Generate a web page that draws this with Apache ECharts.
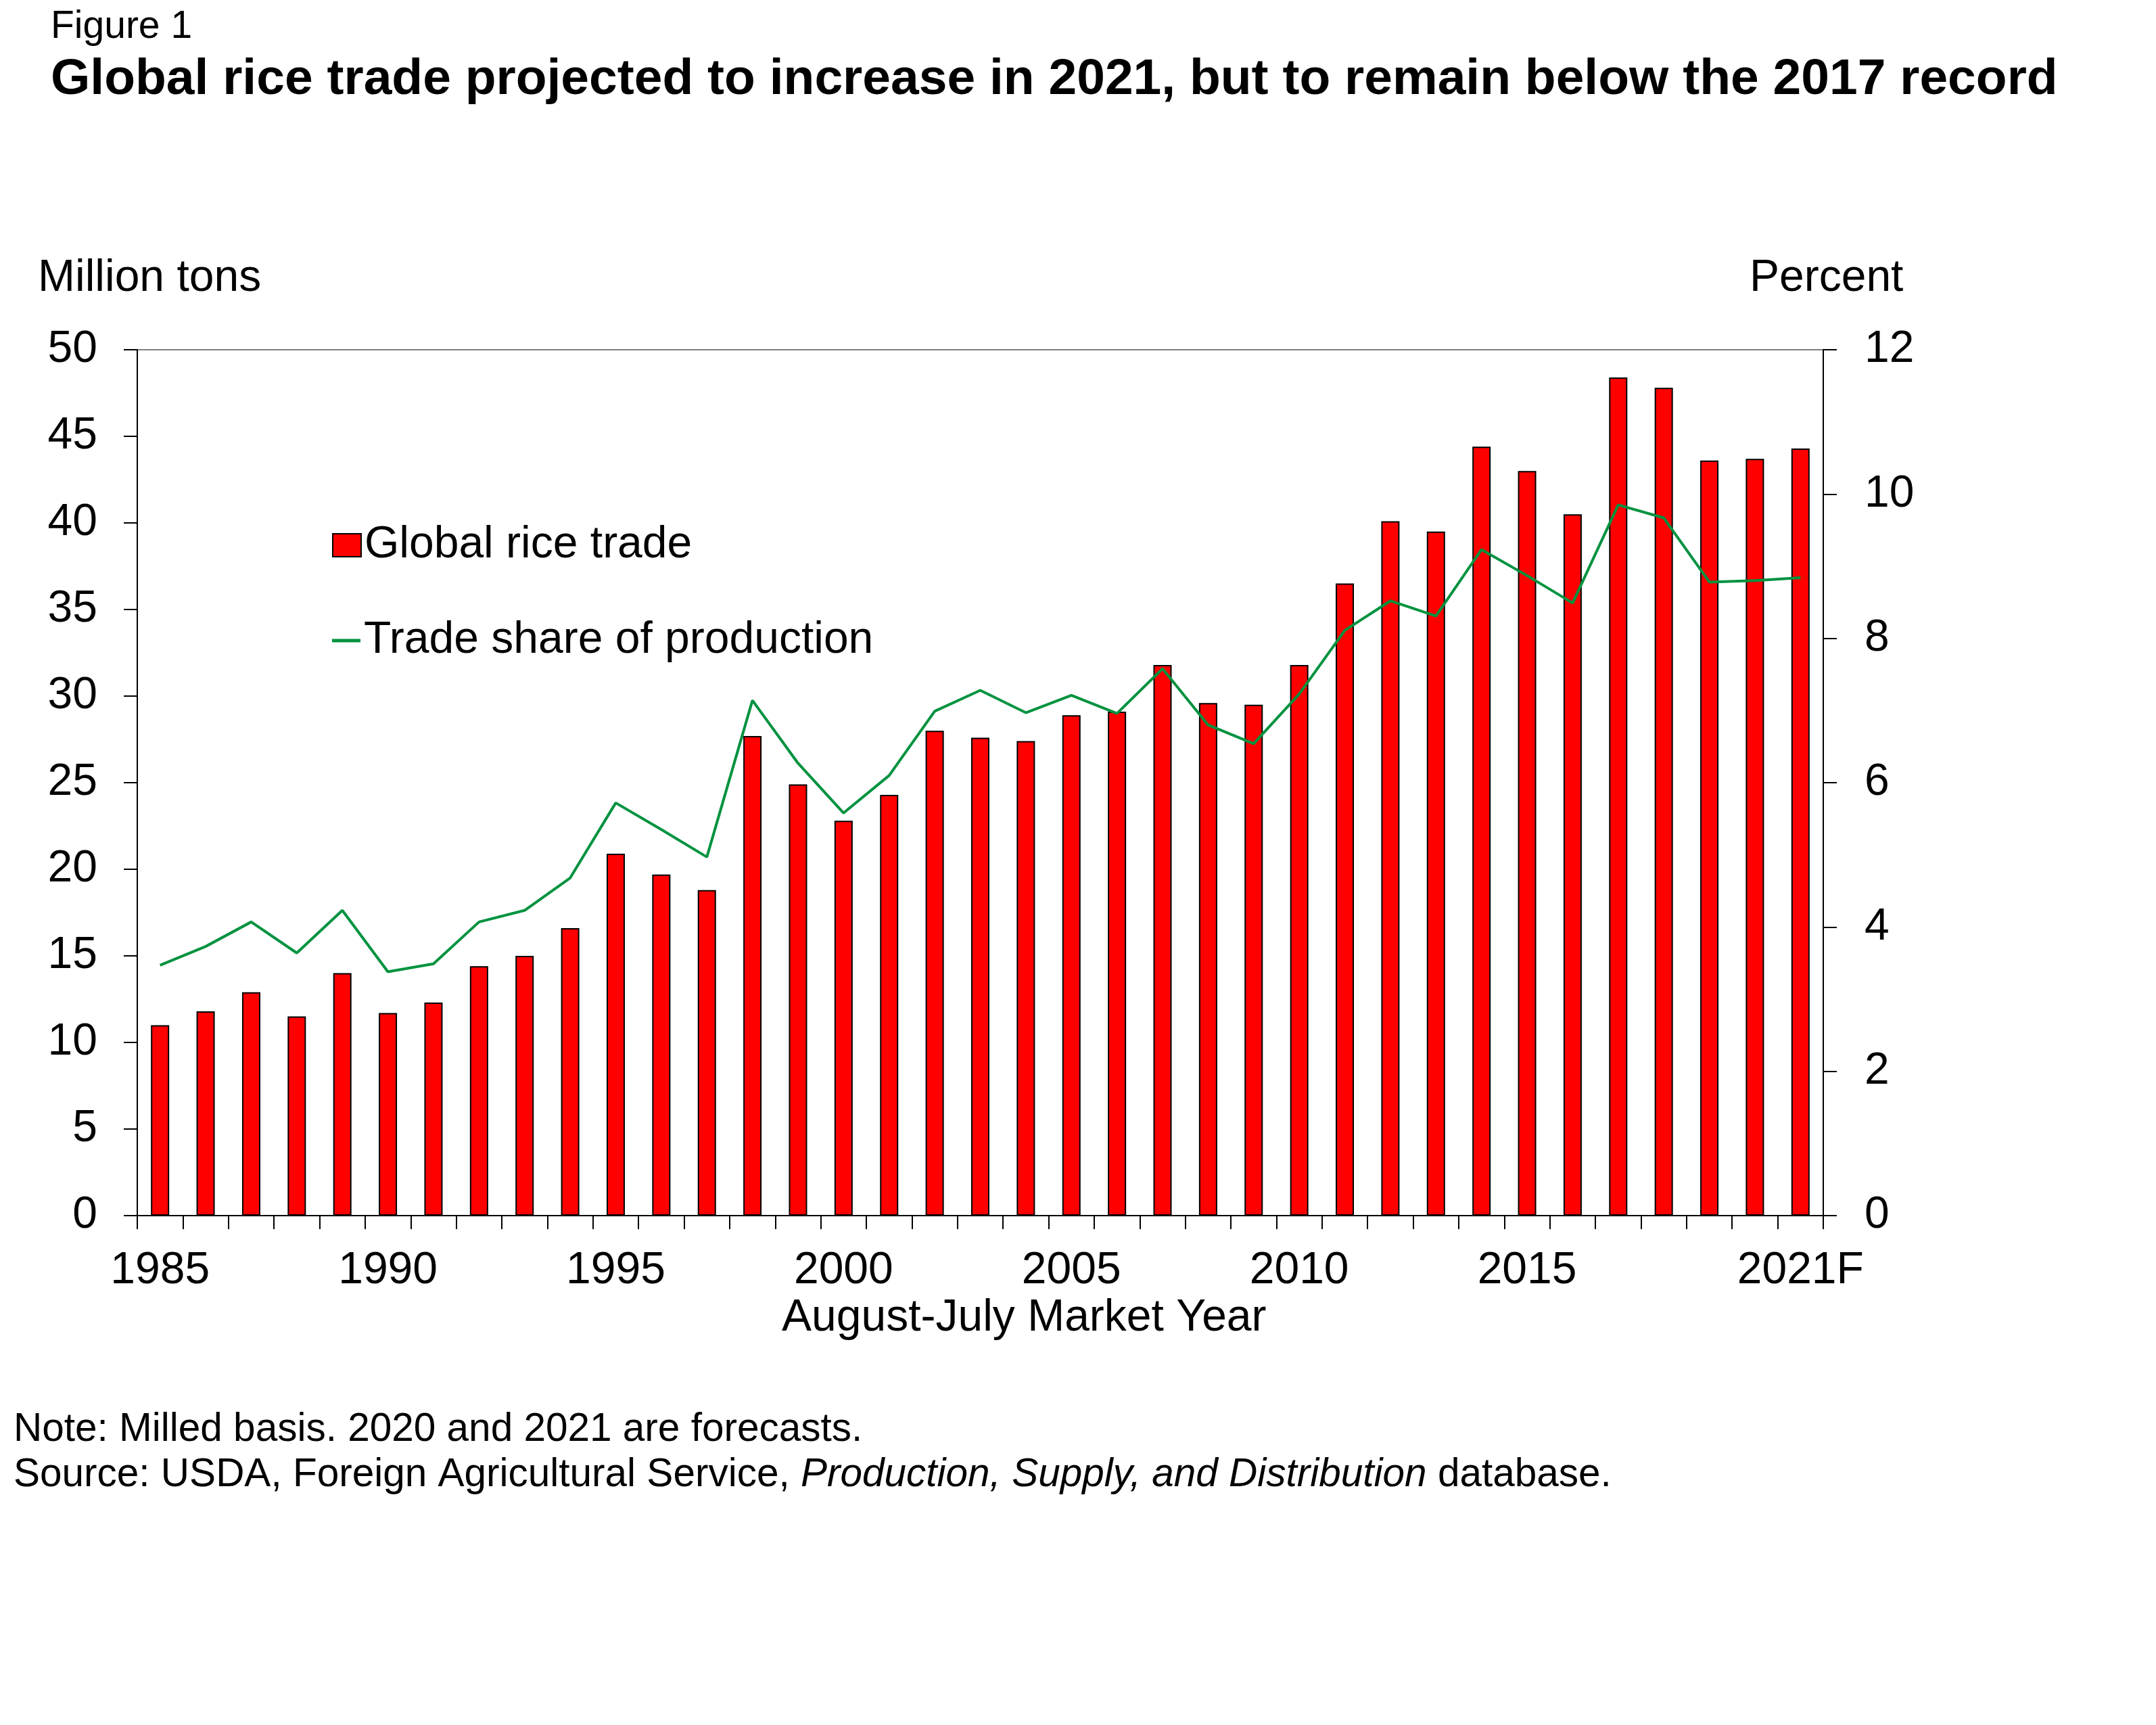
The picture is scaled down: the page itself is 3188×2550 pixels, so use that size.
<!DOCTYPE html>
<html>
<head>
    <meta charset="utf-8">
    <title>Global rice trade</title>
    <script src="https://cdn.jsdelivr.net/npm/echarts@6/dist/echarts.min.js"></script>
    <style>
        body { margin: 0; background: #fff; }
    </style>
</head>
<body>
    <div id="main" style="width: 3188px; height: 2550px;"></div>
    <script type="text/javascript">

        // market years (tick labels shown every 5 years + last)
        var years = ['1985','1986','1987','1988','1989','1990','1991','1992','1993','1994',
            '1995','1996','1997','1998','1999','2000','2001','2002','2003','2004',
            '2005','2006','2007','2008','2009','2010','2011','2012','2013','2014',
            '2015','2016','2017','2018','2019','2020','2021F'];

        // global rice trade, million tons
        var riceTrade = [11.0, 11.8, 12.9, 11.5, 14.0, 11.7, 12.3, 14.4, 15.0, 16.6,
            20.9, 19.7, 18.8, 27.7, 24.9, 22.8, 24.3, 28.0, 27.6, 27.4,
            28.9, 29.1, 31.8, 29.6, 29.5, 31.8, 36.5, 40.1, 39.5, 44.4,
            43.0, 40.5, 48.4, 47.8, 43.6, 43.7, 44.3];

        // trade share of production, percent
        var tradeShare = [3.47, 3.73, 4.07, 3.64, 4.23, 3.38, 3.49, 4.07, 4.23, 4.68,
            5.72, 5.35, 4.97, 7.14, 6.27, 5.58, 6.10, 6.99, 7.28, 6.97,
            7.21, 6.96, 7.58, 6.80, 6.54, 7.23, 8.11, 8.52, 8.31, 9.23,
            8.87, 8.49, 9.85, 9.67, 8.78, 8.80, 8.84];

        var font = 'Liberation Sans, Arial, sans-serif';

        var myChart = echarts.init(document.getElementById('main'));

        var option = {
            backgroundColor: '#fff',
            animation: false,
            textStyle: { fontFamily: font },
            title: [
                {
                    text: 'Figure 1',
                    left: 75, top: 12, padding: 0,
                    textStyle: { fontFamily: font, fontSize: 57, fontWeight: 'normal', color: '#000' }
                },
                {
                    text: 'Global rice trade projected to increase in 2021, but to remain below the 2017 record',
                    left: 75, top: 81, padding: 0,
                    textStyle: { fontFamily: font, fontSize: 75, fontWeight: 'bold', color: '#000' }
                },
                {
                    text: 'Million tons',
                    left: 56, top: 379, padding: 0,
                    textStyle: { fontFamily: font, fontSize: 66, fontWeight: 'normal', color: '#000' }
                },
                {
                    text: 'Percent',
                    left: 2587, top: 379, padding: 0,
                    textStyle: { fontFamily: font, fontSize: 66, fontWeight: 'normal', color: '#000' }
                },
                {
                    text: 'August-July Market Year',
                    left: 1156, top: 1916, padding: 0,
                    textStyle: { fontFamily: font, fontSize: 66, fontWeight: 'normal', color: '#000' }
                },
                {
                    text: 'Note: Milled basis. 2020 and 2021 are forecasts.\n' +
                        'Source: USDA, Foreign Agricultural Service, {i|Production, Supply, and Distribution} database.',
                    left: 20, top: 2080, padding: 0,
                    textStyle: {
                        fontFamily: font, fontSize: 58.5, fontWeight: 'normal', color: '#000',
                        lineHeight: 67,
                        rich: {
                            i: { fontFamily: font, fontSize: 58.5, fontStyle: 'italic', color: '#000', lineHeight: 67 }
                        }
                    }
                }
            ],
            legend: [
                {
                    data: ['Global rice trade'],
                    orient: 'vertical',
                    left: 491, top: 773, padding: 0,
                    icon: 'rect',
                    itemWidth: 42, itemHeight: 34,
                    selectedMode: false,
                    textStyle: { fontFamily: font, fontSize: 66, color: '#000', lineHeight: 66 }
                },
                {
                    data: ['Trade share of production'],
                    orient: 'vertical',
                    left: 491, top: 914, padding: 0,
                    icon: 'rect',
                    itemWidth: 42, itemHeight: 5,
                    selectedMode: false,
                    textStyle: { fontFamily: font, fontSize: 66, color: '#000', lineHeight: 66 }
                }
            ],
            grid: {
                left: 203, right: 492, top: 517, bottom: 753,
                show: true,
                borderColor: '#808080',
                borderWidth: 2
            },
            xAxis: {
                type: 'category',
                data: years,
                boundaryGap: true,
                axisLine: { lineStyle: { color: '#000', width: 2 } },
                axisTick: { show: true, interval: 0, inside: false, length: 20, lineStyle: { color: '#000', width: 2 } },
                axisLabel: {
                    interval: function (index) {
                        return (index % 5 === 0 && index <= 30) || index === years.length - 1;
                    },
                    margin: 49,
                    fontFamily: font, fontSize: 66, color: '#000'
                },
                splitLine: { show: false }
            },
            yAxis: [
                {
                    type: 'value',
                    min: 0, max: 50, interval: 5,
                    position: 'left',
                    axisLine: { show: true, lineStyle: { color: '#000', width: 2 } },
                    axisTick: { show: true, inside: false, length: 20, lineStyle: { color: '#000', width: 2 } },
                    axisLabel: { margin: 59, fontFamily: font, fontSize: 66, color: '#000' },
                    splitLine: { show: false }
                },
                {
                    type: 'value',
                    min: 0, max: 12, interval: 2,
                    position: 'right',
                    axisLine: { show: true, lineStyle: { color: '#000', width: 2 } },
                    axisTick: { show: true, inside: false, length: 20, lineStyle: { color: '#000', width: 2 } },
                    axisLabel: { margin: 61, fontFamily: font, fontSize: 66, color: '#000' },
                    splitLine: { show: false }
                }
            ],
            series: [
                {
                    name: 'Global rice trade',
                    type: 'bar',
                    yAxisIndex: 0,
                    barWidth: 27,
                    itemStyle: { color: '#FF0000', borderColor: '#000', borderWidth: 2 },
                    data: riceTrade
                },
                {
                    name: 'Trade share of production',
                    type: 'line',
                    yAxisIndex: 1,
                    symbol: 'none',
                    color: '#00923F',
                    itemStyle: { color: '#00923F' },
                    lineStyle: { color: '#00923F', width: 4 },
                    data: tradeShare
                }
            ]
        };

        myChart.setOption(option);

    </script>
</body>
</html>
